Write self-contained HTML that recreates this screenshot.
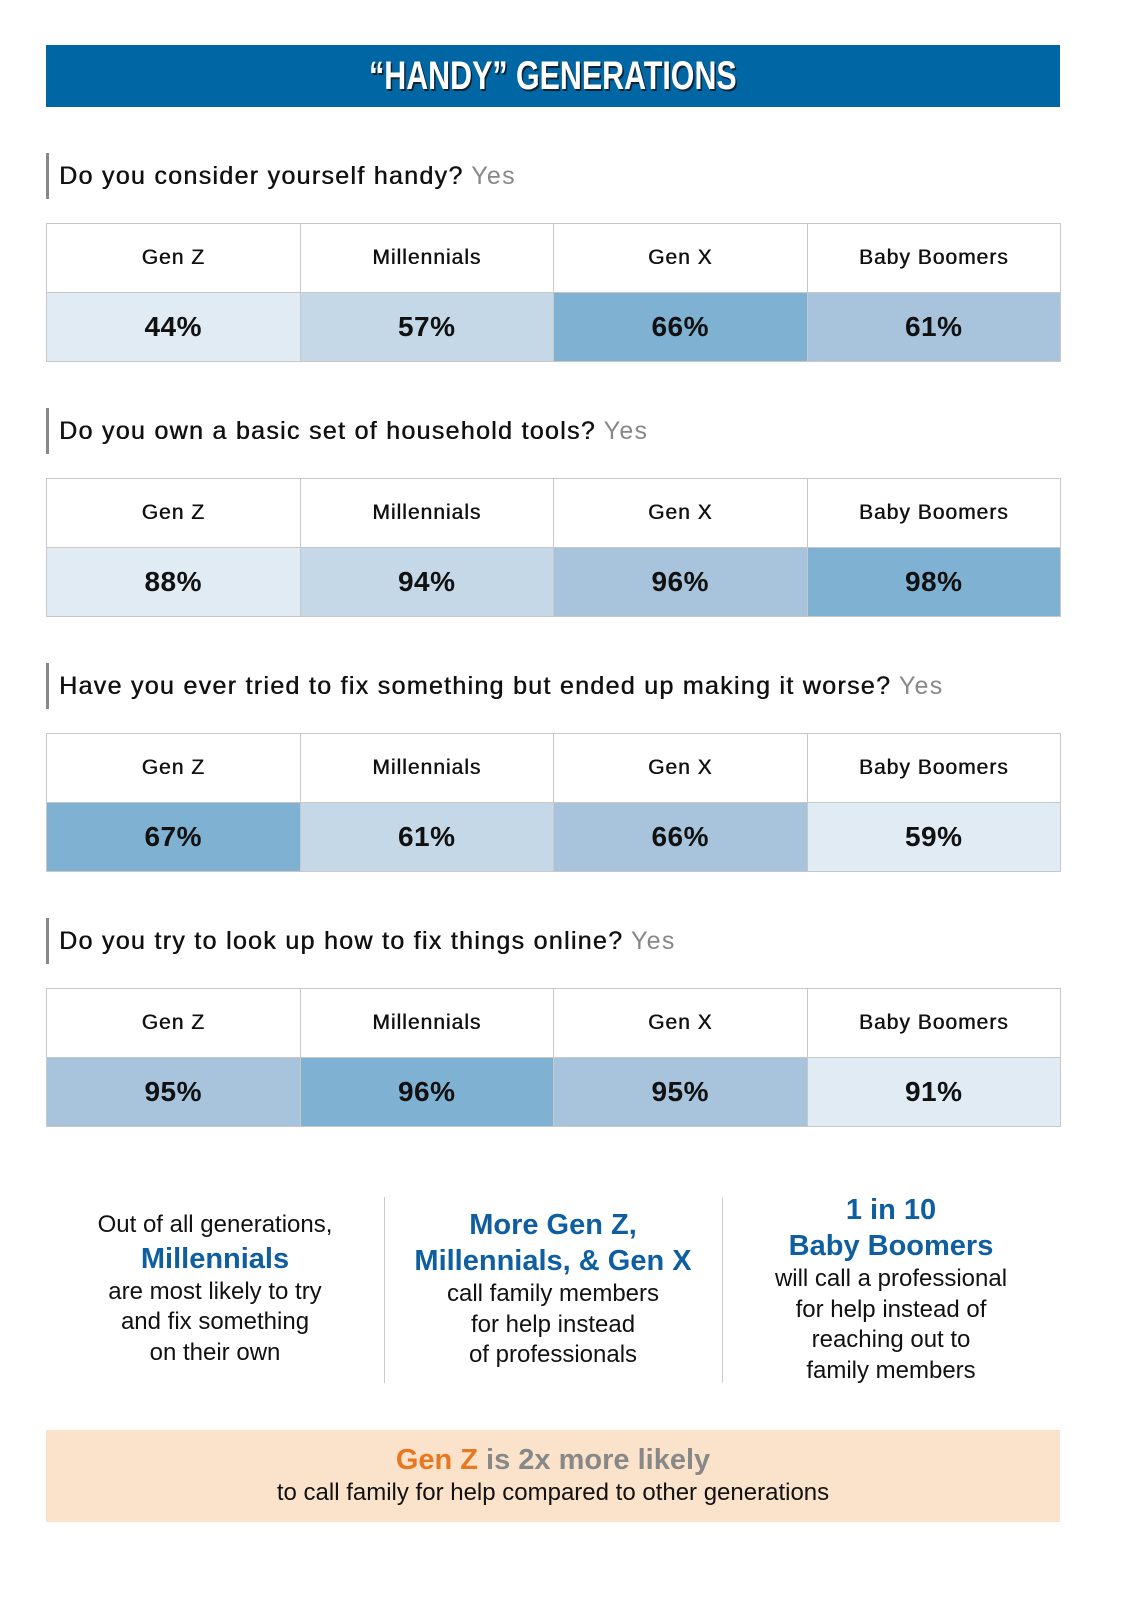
<!DOCTYPE html>
<html><head><meta charset="utf-8"><style>
body{margin:0;width:1129px;height:1600px;background:#fff;font-family:"Liberation Sans",sans-serif;position:relative;overflow:hidden}
.abs{position:absolute}
.banner{left:46px;top:45px;width:1014px;height:62px;background:#0066a4;color:#fff;text-align:center;font:bold 40px/62px "Liberation Sans",sans-serif;text-shadow:2px 2px 0 #123}
.banner span{display:inline-block;transform:scaleX(0.76)}
.q{left:46px;border-left:3px solid #888;height:46px;padding-left:10px;font-size:25px;line-height:46px;color:#111;letter-spacing:1.3px;text-shadow:0.5px 0 0 #111}
.q span{color:#888;text-shadow:none}
table{position:absolute;left:46px;width:1015px;border-collapse:collapse;table-layout:fixed}
td{border:1px solid #c8c8c8;text-align:center;height:68px;padding:0}
td.h{font-size:21px;color:#111;background:#fff;letter-spacing:1px;text-shadow:0.5px 0 0 #111}
td.v{font-size:28px;font-weight:bold;color:#111;letter-spacing:0.5px}
.col{width:300px;text-align:center;font-size:24px;line-height:30.5px;color:#111}
.b{color:#0f5fa0;font-weight:bold;font-size:29px;line-height:36px}
.div{width:1px;background:#ccc;top:1197px;height:186px}
</style></head><body>
<div class="abs banner"><span>“HANDY” GENERATIONS</span></div>
<div id="root"></div>
<div class="abs col" style="left:65px;top:1210px">Out of all generations,<br><span class="b">Millennials</span><br>are most likely to try<br>and fix something<br>on their own</div>
<div class="abs div" style="left:384px"></div>
<div class="abs col" style="left:403px;top:1207px"><span class="b">More Gen Z,<br>Millennials, &amp; Gen X</span><br>call family members<br>for help instead<br>of professionals</div>
<div class="abs div" style="left:722px"></div>
<div class="abs col" style="left:741px;top:1192px"><span class="b">1 in 10<br>Baby Boomers</span><br>will call a professional<br>for help instead of<br>reaching out to<br>family members</div>
<div class="abs" style="left:46px;top:1430px;width:1014px;height:92px;background:#fbe3cb;text-align:center">
<div style="font-weight:bold;font-size:29px;margin-top:14px;color:#888"><span style="color:#e87722">Gen Z</span> is 2x more likely</div>
<div style="font-size:24px;color:#111;margin-top:2px">to call family for help compared to other generations</div>
</div>
<script>
const generations=["Gen Z","Millennials","Gen X","Baby Boomers"];
const questions=["Do you consider yourself handy?","Do you own a basic set of household tools?","Have you ever tried to fix something but ended up making it worse?","Do you try to look up how to fix things online?"];
const q1Values=[44,57,66,61];
const q2Values=[88,94,96,98];
const q3Values=[67,61,66,59];
const q4Values=[95,96,95,91];
const allValues=[q1Values,q2Values,q3Values,q4Values];
const shades=["#e1ebf4","#c4d8e8","#a8c4dc","#7fb1d2"];
const root=document.getElementById('root');
allValues.forEach((vals,i)=>{
  const top=153+i*255;
  const q=document.createElement('div');
  q.className='abs q';q.style.top=top+'px';
  
  
  q.innerHTML=questions[i]+' <span>Yes</span>';
  root.appendChild(q);
  const t=document.createElement('table');
  t.style.top=(top+70)+'px';
  
  
  const hr=t.insertRow(), vr=t.insertRow();
  const desc=[...new Set(vals)].sort((a,b)=>b-a);
  const minV=desc[desc.length-1];
  generations.forEach((g,j)=>{
    const h=hr.insertCell();h.className='h';h.textContent=g;
    
    
    const c=vr.insertCell();c.className='v';c.textContent=vals[j]+'%';
    let rank=vals[j]===minV?0:3-desc.indexOf(vals[j]);
    c.style.background=shades[Math.max(0,Math.min(3,rank))];
    
    
  });
  root.appendChild(t);
});
</script>
</body></html>
